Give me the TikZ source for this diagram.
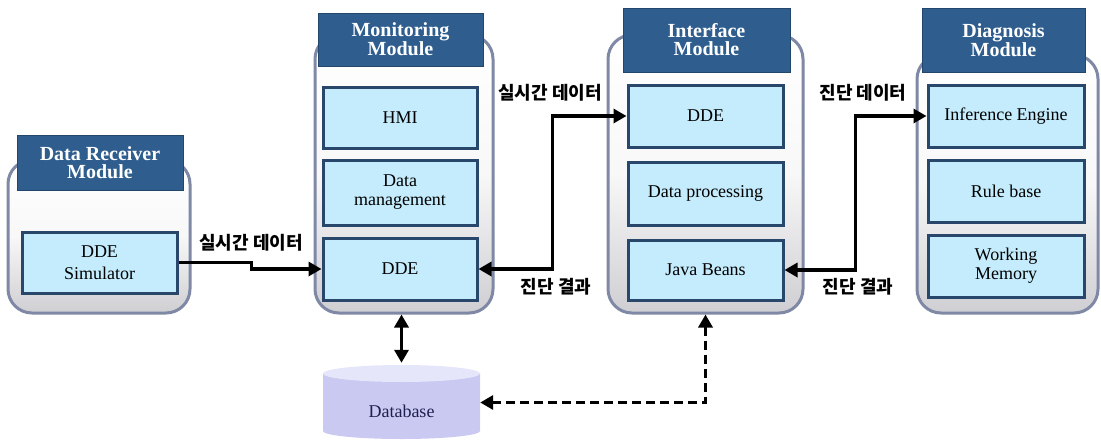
\documentclass[tikz,border=0pt]{standalone}
\usepackage{fontspec}
\setmainfont{Liberation Serif}
\newfontfamily\kr{Noto Sans CJK KR}
\usetikzlibrary{arrows.meta,calc}
\definecolor{hdrfill}{HTML}{2F5E8E}
\definecolor{hdrdraw}{HTML}{22466C}
\definecolor{inFill}{HTML}{C4ECFC}
\definecolor{inDraw}{HTML}{29476A}
\definecolor{outDraw}{HTML}{7F89A5}
\definecolor{outBot}{HTML}{CFCFD3}
\definecolor{dbFill}{HTML}{C9C9F1}
\definecolor{dbTop}{HTML}{E6E6FB}
\definecolor{dbText}{HTML}{1E2050}
\tikzset{
  outer/.style={draw=outDraw, line width=3pt, rounded corners=24pt, top color=white, bottom color=outBot, middle color=white!85!outBot, minimum width=#1},
  hdr/.style={draw=hdrdraw, line width=1pt, fill=hdrfill, text=white, font=\fontsize{20}{18}\selectfont\bfseries, align=center, inner sep=0pt},
  inbox/.style={draw=inDraw, line width=3pt, fill=inFill, font=\fontsize{18}{19}\selectfont, align=center, inner sep=0pt},
  arr/.style={line width=3.3pt, -{Triangle[length=13pt,width=14pt]}},
  darr/.style={line width=3.3pt, {Triangle[length=13pt,width=14pt]}-{Triangle[length=13pt,width=14pt]}},
  lbl/.style={font=\kr\bfseries\fontsize{18}{18}\selectfont, inner sep=0pt}
}
\begin{document}
\begin{tikzpicture}[x=1pt,y=-1pt]
\useasboundingbox (0,0) rectangle (1101,442);
% outer module boxes
\node[outer=182pt, minimum height=153pt] (R) at (99,236.5) {};
\node[outer=178pt, minimum height=278pt] (M) at (404,174) {};
\node[outer=195pt, minimum height=278pt] (I) at (705.5,174) {};
\node[outer=181pt, minimum height=258pt] (D) at (1007.5,184) {};
% headers
\node[hdr, minimum width=166pt, minimum height=55pt] (Rh) at (100,162.5) {Data Receiver\\Module};
\node[hdr, minimum width=165pt, minimum height=53pt] (Mh) at (400.5,39.5) {Monitoring\\Module};
\node[hdr, minimum width=167pt, minimum height=64pt] (Ih) at (706.5,40) {Interface\\Module};
\node[hdr, minimum width=163pt, minimum height=64pt] (Dh) at (1003.5,40) {Diagnosis\\Module};
% inner boxes
\node[inbox, minimum width=155pt, minimum height=61pt] (sim) at (99.5,262.5) {DDE\\[3pt]Simulator};
\node[inbox, minimum width=154pt, minimum height=61pt] (hmi) at (400,117.5) {HMI};
\node[inbox, minimum width=154pt, minimum height=65pt] (dm) at (400,192.5) {Data\\management};
\node[inbox, minimum width=154pt, minimum height=62pt] (mdde) at (400,269) {DDE};
\node[inbox, minimum width=155pt, minimum height=62pt] (idde) at (705.5,116) {DDE};
\node[inbox, minimum width=155pt, minimum height=63pt] (dp) at (705.5,193.5) {Data processing};
\node[inbox, minimum width=155pt, minimum height=60pt] (jb) at (705.5,270) {Java Beans};
\node[inbox, minimum width=156pt, minimum height=62pt] (ie) at (1006,116) {Inference Engine};
\node[inbox, minimum width=156pt, minimum height=62pt] (rb) at (1006,191) {Rule base};
\node[inbox, minimum width=156pt, minimum height=62pt] (wm) at (1006,266) {Working\\Memory};
% database cylinder
\fill[dbFill] (323,373.5) -- (323,431) arc[start angle=180, end angle=0, x radius=78.5, y radius=8] -- (480,373.5) -- cycle;
\fill[dbTop] (401.5,373.5) ellipse[x radius=78.5, y radius=8.5];
\node[minimum width=157pt, minimum height=75pt, inner sep=0pt] (db) at (401.5,402.5) {};
\node[text=dbText, font=\fontsize{18}{19}\selectfont, inner sep=0pt] (dbl) at (401.5,411) {Database};
% connectors
\draw[arr] (sim.east) -- ++(73,0) |- (mdde.west);
\draw[darr] (mdde.east) -| ($(mdde.east)!0.5!(idde.west)$) |- (idde.west);
\draw[darr] (jb.east) -| ($(jb.east)!0.5!(ie.west)$) |- (ie.west);
\draw[darr] (db.north |- M.south) -- ([yshift=2pt]db.north);
\draw[darr, dash pattern=on 9pt off 5pt] (I.south) |- (db.east);
% labels
\node[lbl] (l1) at (251,243) {실시간 데이터};
\node[lbl] (l2) at (550,93) {실시간 데이터};
\node[lbl] (l3) at (556,287) {진단 결과};
\node[lbl] (l4) at (863,93) {진단 데이터};
\node[lbl] (l5) at (858,287) {진단 결과};
\end{tikzpicture}
\end{document}
